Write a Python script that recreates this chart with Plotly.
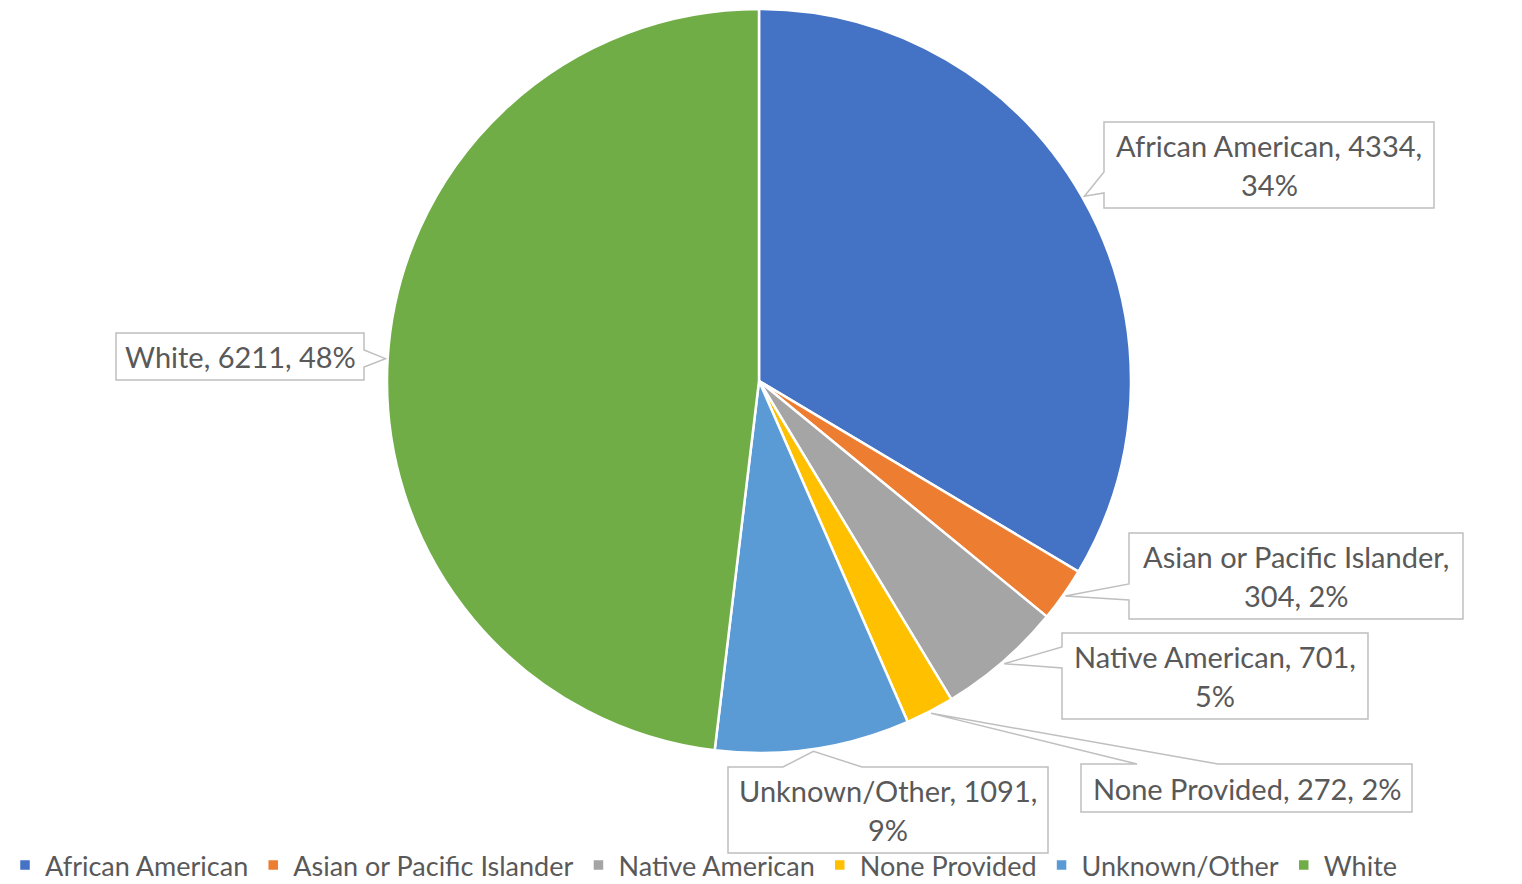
import math
import plotly.graph_objects as go

# ---- data ----
categories = ["African American", "Asian or Pacific Islander", "Native American",
              "None Provided", "Unknown/Other", "White"]
counts = [4334, 304, 701, 272, 1091, 6211]
percent_labels = [34, 2, 5, 2, 9, 48]
colors = ["#4472C4", "#ED7D31", "#A5A5A5", "#FFC000", "#5B9BD5", "#70AD47"]
# label line breaks (how each callout wraps)
label_lines = [
    ["African American, {v},", "{p}%"],
    ["Asian or Pacific Islander,", "{v}, {p}%"],
    ["Native American, {v},", "{p}%"],
    ["None Provided, {v}, {p}%"],
    ["Unknown/Other, {v},", "{p}%"],
    ["White, {v}, {p}%"],
]

# ---- layout config (pixels in the final page) ----
W, H = 1522, 884
pie_left, pie_right, pie_top, pie_bottom = 387, 1131, 9, 753
# callout boxes: (x0, y0, x1, y1), pointer side, pointer base span
callouts = [
    ((1104, 122, 1434, 208), "left", (172, 193)),
    ((1129, 533, 1463, 619), "left", (584, 600)),
    ((1062, 633, 1368, 719), "left", (647, 668)),
    ((1081, 764, 1412, 812), "top", (1137, 1218)),
    ((728, 767, 1048, 853), "top", (783, 862)),
    ((116, 333, 364, 380), "right", (350, 367)),
]
FONT = "Lato"
TXT = "#595959"
LINE_GAP = 39
LABEL_SIZE = 29
LEGEND_SIZE = 27


def px(x):
    return x / W


def py(y):
    return 1 - y / H


fig = go.Figure()
fig.add_trace(go.Pie(
    labels=categories, values=counts, sort=False, direction="clockwise",
    rotation=0, textinfo="none", hoverinfo="label+value+percent",
    marker=dict(colors=colors, line=dict(color="white", width=2.5)),
    domain=dict(x=[px(pie_left), px(pie_right)], y=[py(pie_bottom), py(pie_top)]),
))

cx = (pie_left + pie_right) / 2
cy = (pie_top + pie_bottom) / 2
R = min(pie_right - pie_left, pie_bottom - pie_top) / 2
total = sum(counts)

shapes = []
annotations = []
cum = 0
for i, v in enumerate(counts):
    frac = v / total
    mid = (cum + frac / 2) * 2 * math.pi
    cum += frac
    tx = cx + 1.006 * R * math.sin(mid)
    ty = cy - 1.006 * R * math.cos(mid)
    (x0, y0, x1, y1), side, (b0, b1) = callouts[i]
    if side == "left":
        pts = [(x0, y0), (x1, y0), (x1, y1), (x0, y1), (x0, b1), (tx, ty), (x0, b0)]
    elif side == "right":
        pts = [(x0, y0), (x1, y0), (x1, b0), (tx, ty), (x1, b1), (x1, y1), (x0, y1)]
    else:  # top
        pts = [(x0, y0), (b0, y0), (tx, ty), (b1, y0), (x1, y0), (x1, y1), (x0, y1)]
    path = "M " + " L ".join(f"{px(a):.6f},{py(b):.6f}" for a, b in pts) + " Z"
    shapes.append(dict(type="path", xref="paper", yref="paper", path=path,
                       fillcolor="white", line=dict(color="#BFBFBF", width=1.5),
                       layer="above"))
    lines = [s.format(v=v, p=percent_labels[i]) for s in label_lines[i]]
    ymid = (y0 + y1) / 2
    n = len(lines)
    for k, t in enumerate(lines):
        ly = ymid + (k - (n - 1) / 2) * LINE_GAP
        annotations.append(dict(xref="paper", yref="paper", x=px((x0 + x1) / 2), y=py(ly),
                                text=t, showarrow=False, xanchor="center", yanchor="middle",
                                font=dict(family=FONT, size=LABEL_SIZE, color=TXT)))

fig.update_layout(
    width=W, height=H, margin=dict(l=0, r=0, t=0, b=0, autoexpand=False),
    paper_bgcolor="white", plot_bgcolor="white",
    shapes=shapes, annotations=annotations,
    showlegend=True,
    legend=dict(orientation="h", x=px(5), xanchor="left", y=-6 / H, yanchor="bottom",
                bgcolor="rgba(0,0,0,0)",
                font=dict(family=FONT, size=LEGEND_SIZE, color=TXT),
                traceorder="normal", itemclick=False, itemdoubleclick=False),
)

fig.write_html("out.html", config={"displayModeBar": False},
               post_script="document.body.style.margin='0';document.body.style.overflow='hidden';")
